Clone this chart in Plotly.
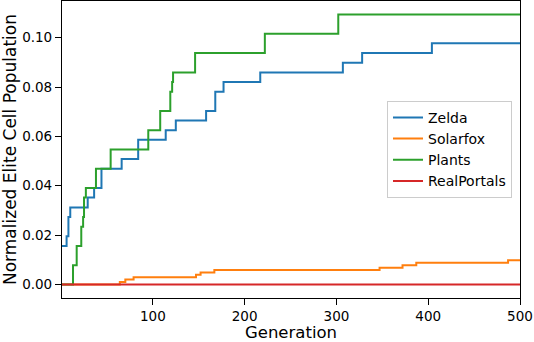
import plotly.graph_objects as go

# Step data: generation at which each level starts
zelda_gen = [1, 6, 8, 10, 29, 36, 44, 66, 84, 114, 125, 158, 168, 177, 217, 307, 328, 404, 500]
zelda_val = [0.0156, 0.0195, 0.0273, 0.0312, 0.0352, 0.0391, 0.0469, 0.0508, 0.0586, 0.0625,
             0.0664, 0.0703, 0.0781, 0.0820, 0.0859, 0.0898, 0.0938, 0.0977, 0.0977]

solarfox_gen = [1, 64, 70, 79, 147, 152, 167, 347, 372, 387, 487, 500]
solarfox_val = [0.0, 0.0010, 0.0020, 0.0029, 0.0039, 0.0049, 0.0059, 0.0068, 0.0078, 0.0088, 0.0098, 0.0098]

plants_gen = [1, 13, 17, 22, 24, 25, 27, 38, 54, 95, 108, 119, 121, 122, 146, 222, 302, 500]
plants_val = [0.0, 0.0078, 0.0156, 0.0234, 0.0273, 0.0352, 0.0391, 0.0469, 0.0547, 0.0625,
              0.0703, 0.0781, 0.0820, 0.0859, 0.0938, 0.1016, 0.1094, 0.1094]

realportals_gen = [1, 500]
realportals_val = [0.0, 0.0]

series = [
    ("Zelda", zelda_gen, zelda_val, "#1f77b4"),
    ("Solarfox", solarfox_gen, solarfox_val, "#ff7f0e"),
    ("Plants", plants_gen, plants_val, "#2ca02c"),
    ("RealPortals", realportals_gen, realportals_val, "#d62728"),
]

x_ticks = [100, 200, 300, 400, 500]
y_ticks = [0.0, 0.02, 0.04, 0.06, 0.08, 0.10]
y_tick_labels = ["0.00", "0.02", "0.04", "0.06", "0.08", "0.10"]

fig = go.Figure()
for name, gx, gy, col in series:
    fig.add_trace(go.Scatter(x=gx, y=gy, name=name, mode="lines",
                             line=dict(color=col, width=2, shape="hv")))

font = "DejaVu Sans, Arial, sans-serif"
fig.update_layout(
    width=534, height=342,
    margin=dict(l=62, r=14, t=1, b=44, autoexpand=False),
    plot_bgcolor="white", paper_bgcolor="white",
    font=dict(family=font, size=13.5, color="black"),
    showlegend=True,
    legend=dict(x=0.7096, y=0.664, xanchor="left", yanchor="top",
                bgcolor="rgba(255,255,255,0.8)", bordercolor="#cccccc", borderwidth=1,
                font=dict(size=14), itemwidth=30, tracegroupgap=0),
    xaxis=dict(range=[1, 500], tickvals=x_ticks, ticks="outside", ticklen=6, tickwidth=1,
               tickcolor="black", showline=True, linecolor="black", linewidth=1.2, mirror=True,
               showgrid=False, zeroline=False, automargin=False,
               title=dict(text="Generation", font=dict(size=16.5), standoff=5)),
    yaxis=dict(range=[-0.00547, 0.11484], tickvals=y_ticks, ticktext=y_tick_labels,
               ticks="outside", ticklen=6, tickwidth=1, tickcolor="black",
               showline=True, linecolor="black", linewidth=1.2, mirror=True,
               showgrid=False, zeroline=False, automargin=False,
               title=dict(text="Normalized Elite Cell Population", font=dict(size=17), standoff=6)),
)

fig.write_html("out.html", config={"displayModeBar": False},
               post_script="document.body.style.margin='0';document.body.style.overflow='hidden';")
